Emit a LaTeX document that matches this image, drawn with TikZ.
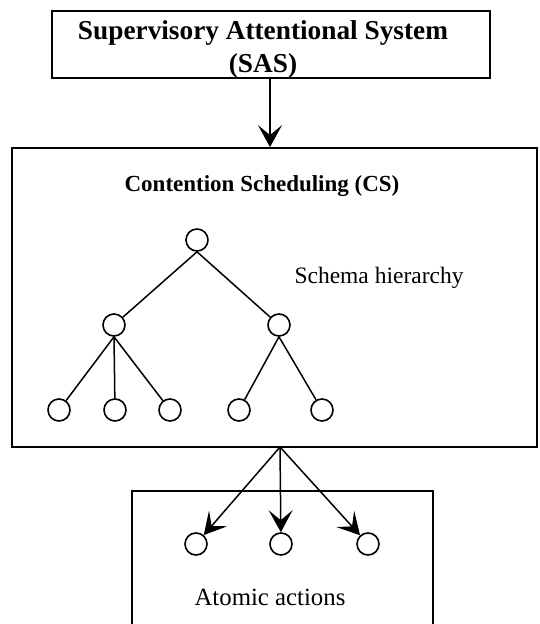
\documentclass[tikz,border=0pt]{standalone}
\usepackage{fontspec}
\setmainfont{Liberation Serif}
\usetikzlibrary{arrows.meta}
\begin{document}
\begin{tikzpicture}[x=1pt,y=-1pt,
  frame/.style={draw, line width=1.8pt, inner sep=0pt},
  schema/.style={draw, circle, line width=1.6pt, minimum size=22pt, inner sep=0pt},
  link/.style={line width=1.5pt},
  arr/.style={line width=1.5pt, -{Stealth[length=22pt, width=24pt, inset=10pt]}},
  lbl/.style={font=\fontsize{23.5}{28}\selectfont}]
\useasboundingbox (0,0) rectangle (540,624);

% supervisory system box
\node[frame, minimum width=438pt, minimum height=67pt] (sas) at (271,44.5) {};
\node[font=\bfseries\fontsize{27.3}{33}\selectfont, align=center, inner sep=0pt] (sastext) at (263,49.5)
  {Supervisory Attentional System\\(SAS)};

% contention scheduling box
\node[frame, minimum width=525pt, minimum height=299pt] (cs) at (274.5,297.5) {};
\node[font=\bfseries\fontsize{23}{28}\selectfont] (cstitle) at (262,186) {Contention Scheduling (CS)};
\node[lbl] (hier) at (379,278) {Schema hierarchy};

% schema tree
\node[schema] (root) at (197,240) {};
\node[schema] (ml) at (114,325) {};
\node[schema] (mr) at (279,325) {};
\node[schema] (l1) at (59,410) {};
\node[schema] (l2) at (115,410) {};
\node[schema] (l3) at (170,410) {};
\node[schema] (l4) at (239,410) {};
\node[schema] (l5) at (322,410) {};
\draw[link] (root.south) -- (ml);
\draw[link] (root.south) -- (mr);
\draw[link] (ml.south) -- (l1);
\draw[link] (ml.south) -- (l2);
\draw[link] (ml.south) -- (l3);
\draw[link] (mr.south) -- (l4);
\draw[link] (mr.south) -- (l5);

% SAS drives contention scheduling
\draw[arr] (sas.south -| 270,0) -- (cs.north -| 270,0);

% atomic actions box, open at the bottom
\draw[line width=1.8pt] (132,630) -- (132,491) -- (433,491) -- (433,630);
\node[schema] (a1) at (196,544) {};
\node[schema] (a2) at (281,544) {};
\node[schema] (a3) at (368,544) {};
\node[font=\fontsize{24.8}{29}\selectfont] (atomic) at (270,597) {Atomic actions};

\coordinate (fan) at (280,447);
\draw[arr] (fan) -- (a1);
\draw[arr] (fan) -- (a2);
\draw[arr] (fan) -- (a3);
\end{tikzpicture}
\end{document}
